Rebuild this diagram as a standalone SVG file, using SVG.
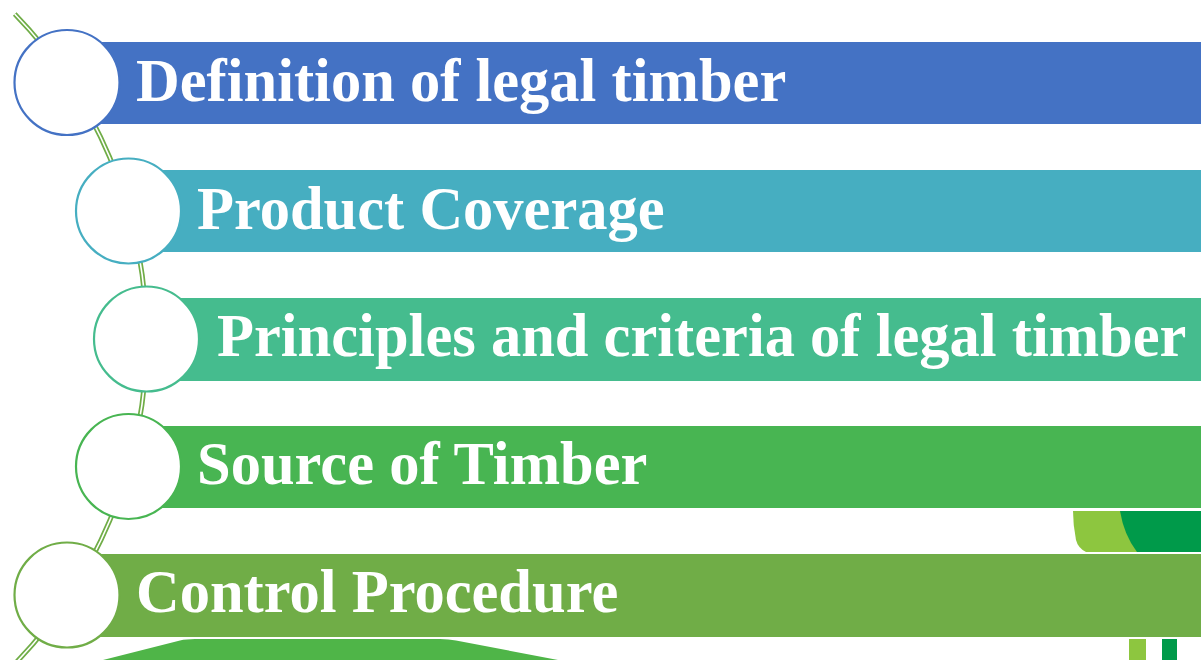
<svg xmlns="http://www.w3.org/2000/svg" width="1201" height="660" viewBox="0 0 1201 660">
<style>
.lbl{font-family:"Liberation Serif","Times New Roman",serif;font-weight:bold;font-size:60.5px;fill:#ffffff}
.ring{fill:#ffffff;stroke-width:2.2}
</style>
<rect x="0" y="0" width="1201" height="660" fill="#ffffff"/>
<g id="decor">
<path d="M1073,511 L1201,511 L1201,552 L1086,552 Q1078,548 1076,540 Q1073,525 1073,511 Z" fill="#8DC63F"/>
<path d="M1120,511 L1201,511 L1201,552 L1137,552 Q1124,535 1120,511 Z" fill="#009A4A"/>
<rect x="1129" y="639" width="17" height="21" fill="#8DC63F"/>
<rect x="1162" y="639" width="15" height="21" fill="#009A4A"/>
<path d="M103,660 L180,640.5 Q186,639 195,639 L440,639 Q449,639 456,640.5 L558,660 Z" fill="#4FB548"/>
</g>
<g id="connectors">
<path d="M14.7,14 A466.5 466.5 0 0 1 14.7,664" fill="none" stroke="#70AD47" stroke-width="5"/>
<path d="M14.7,14 A466.5 466.5 0 0 1 14.7,664" fill="none" stroke="#ffffff" stroke-width="1.6"/>
</g>
<g id="node1">
<rect x="100" y="42" width="1101" height="82" fill="#4472C4"/>
<circle class="ring" cx="67" cy="82.5" r="52.5" stroke="#4472C4"/>
<text class="lbl" x="136" y="101">Definition of legal timber</text>
</g>
<g id="node2">
<rect x="160" y="170" width="1041" height="82" fill="#46AEC1"/>
<circle class="ring" cx="128.5" cy="211" r="52.5" stroke="#46AEC1"/>
<text class="lbl" x="197" y="229">Product Coverage</text>
</g>
<g id="node3">
<rect x="178" y="298" width="1023" height="83" fill="#45BC8E"/>
<circle class="ring" cx="146.5" cy="339" r="52.5" stroke="#45BC8E"/>
<text class="lbl" x="217" y="356">Principles and criteria of legal timber</text>
</g>
<g id="node4">
<rect x="160" y="426" width="1041" height="82" fill="#48B552"/>
<circle class="ring" cx="128.5" cy="466.5" r="52.5" stroke="#48B552"/>
<text class="lbl" x="197" y="484">Source of Timber</text>
</g>
<g id="node5">
<rect x="100" y="554" width="1101" height="83" fill="#70AD47"/>
<circle class="ring" cx="67" cy="595" r="52.5" stroke="#70AD47"/>
<text class="lbl" x="136" y="612">Control Procedure</text>
</g>
</svg>
